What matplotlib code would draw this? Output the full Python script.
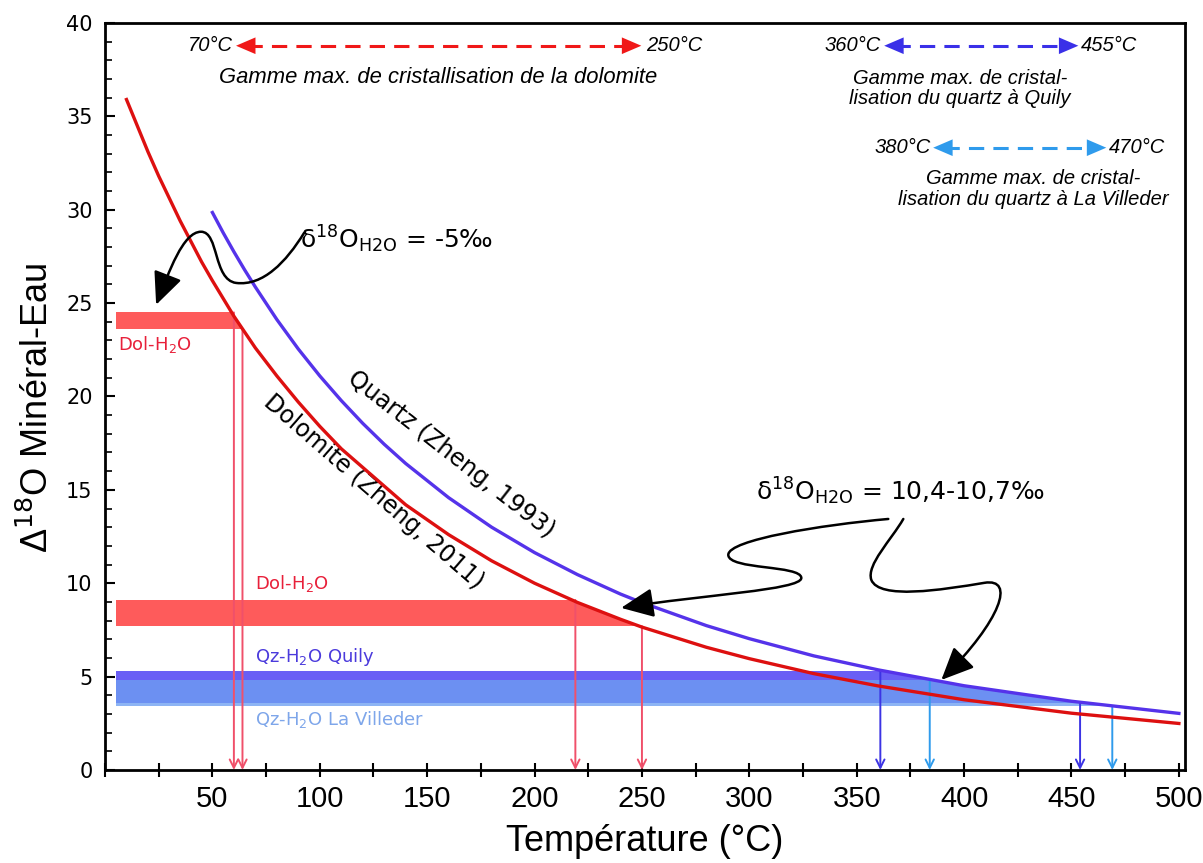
import matplotlib
matplotlib.use("Agg")
import matplotlib.pyplot as plt
from matplotlib.path import Path
from matplotlib.patches import FancyArrowPatch, Polygon, Rectangle
from matplotlib.ticker import MultipleLocator

# fractionation curves (T in °C, Delta18O mineral-water)
t_dol = [10, 15, 20, 25, 30, 35, 40, 45, 50, 60, 70, 80, 90, 100, 110, 120, 130, 140,
         160, 180, 200, 220, 240, 250, 280, 300, 330, 360, 400, 450, 500]
d_dol = [35.9, 34.5, 33.1, 31.8, 30.6, 29.4, 28.3, 27.2, 26.2, 24.3, 22.6, 21.1, 19.7,
         18.4, 17.2, 16.2, 15.2, 14.2, 12.6, 11.2, 10.0, 8.97, 8.07, 7.65, 6.57, 5.96,
         5.16, 4.50, 3.76, 3.04, 2.49]
t_qz = [50, 55, 60, 65, 70, 80, 90, 100, 110, 120, 130, 140, 160, 180, 200, 220, 240,
        250, 280, 300, 330, 360, 400, 450, 500]
d_qz = [29.85, 28.77, 27.75, 26.78, 25.86, 24.12, 22.54, 21.10, 19.78, 18.56, 17.44,
        16.41, 14.58, 13.00, 11.64, 10.46, 9.42, 8.96, 7.73, 7.03, 6.11, 5.36, 4.51,
        3.68, 3.03]

# Delta ranges (low, high) of the bands
dol_band_1 = (23.6, 24.5)
dol_band_2 = (7.7, 9.1)
quily_band = (3.6, 5.3)
villeder_band = (3.4, 4.8)

# vertical arrows: temperature, start value
red_arrows = [(60, 24.5), (64, 23.6), (219, 9.1), (250, 7.7)]
quily_arrows = [(361, 5.3), (454, 3.6)]
villeder_arrows = [(384, 4.8), (469, 3.4)]

RED = "#dd1010"
BLUE = "#5533ea"
BAND_RED = "#fe5b5b"
ARR_RED = "#f0506a"
DARK_BLUE = "#3c34e4"
LIGHT_BLUE = "#2f9bec"

narrow = ["Liberation Sans Narrow", "Liberation Sans", "DejaVu Sans"]

fig = plt.figure(figsize=(12.03, 8.63), dpi=100)
ax = fig.add_axes([0.0873, 0.1078, 0.898, 0.8656])
ax.set_xlim(0, 503)
ax.set_ylim(0, 40)

# clip regions under each curve
dol_clip = Polygon([(0, 0), (0, d_dol[0])] + list(zip(t_dol, d_dol)) + [(t_dol[-1], 0)],
                   closed=True, transform=ax.transData)
qz_clip = Polygon([(0, 0), (0, d_qz[0])] + list(zip(t_qz, d_qz)) + [(t_qz[-1], 0)],
                  closed=True, transform=ax.transData)

for lo, hi in [dol_band_1, dol_band_2]:
    r = Rectangle((5, lo), 500, hi - lo, color=BAND_RED, lw=0, zorder=2)
    ax.add_patch(r)
    r.set_clip_path(dol_clip)

r = Rectangle((5, quily_band[0]), 500, quily_band[1] - quily_band[0],
              color="#6a5ff5", lw=0, zorder=2)
ax.add_patch(r)
r.set_clip_path(qz_clip)
r = Rectangle((5, villeder_band[0]), 500, villeder_band[1] - villeder_band[0],
              color="#6d9ff2", alpha=0.78, lw=0, zorder=2)
ax.add_patch(r)
r.set_clip_path(qz_clip)

ax.plot(t_dol, d_dol, color=RED, lw=2.4, zorder=4)
ax.plot(t_qz, d_qz, color=BLUE, lw=2.4, zorder=4)

for arrows, c in [(red_arrows, ARR_RED), (quily_arrows, DARK_BLUE), (villeder_arrows, LIGHT_BLUE)]:
    for x, y0 in arrows:
        ax.annotate("", xy=(x, 0), xytext=(x, y0), zorder=3,
                    arrowprops=dict(arrowstyle="->,head_length=0.6,head_width=0.3",
                                    color=c, lw=1.4, shrinkA=0, shrinkB=0))

# band labels
ax.text(6, 22.8, "Dol-H$_2$O", color="#e8203a", fontsize=13, va="center")
ax.text(70, 10.0, "Dol-H$_2$O", color="#e8203a", fontsize=13, va="center")
ax.text(70, 6.05, "Qz-H$_2$O Quily", color="#4b3bdc", fontsize=13, va="center")
ax.text(70, 2.7, "Qz-H$_2$O La Villeder", color="#7ea6ea", fontsize=13, va="center")

# curve labels
ax.text(161, 16.9, "Quartz (Zheng, 1993)", rotation=-38, fontsize=17,
        ha="center", va="center", rotation_mode="anchor")
ax.text(125, 14.9, "Dolomite (Zheng, 2011)", rotation=-41, fontsize=17,
        ha="center", va="center", rotation_mode="anchor")

# delta annotations
ax.text(91, 28.4, "δ$^{18}$O$_{\\mathrm{H2O}}$ = -5‰", fontsize=18, va="center")
ax.text(303, 14.9, "δ$^{18}$O$_{\\mathrm{H2O}}$ = 10,4-10,7‰", fontsize=18, va="center")

M, C = Path.MOVETO, Path.CURVE4
curvy = [
    [(92.7, 28.76), (84.3, 27.2), (73.6, 25.9), (61.0, 26.08),
     (50.3, 26.25), (53.1, 28.82), (44.7, 28.82),
     (36.3, 28.82), (29.8, 26.67), (23.8, 24.91)],
    [(364.7, 13.44), (333.5, 13.12), (290.2, 12.32), (290.2, 11.52),
     (290.2, 10.71), (324.2, 10.98), (324.2, 10.28),
     (324.2, 9.64), (277.6, 9.37), (240.3, 8.68)],
    [(371.7, 13.44), (366.1, 12.32), (354.4, 10.98), (356.8, 10.18),
     (360.5, 9.11), (389.4, 9.64), (409.4, 10.02),
     (424.0, 10.3), (417.3, 8.03), (389.4, 4.82)],
]
for verts in curvy:
    p = Path(verts, [M] + [C] * (len(verts) - 1))
    ax.add_patch(FancyArrowPatch(path=p, arrowstyle="-|>,head_length=1.0,head_width=0.45",
                                 mutation_scale=20, color="black", lw=1.8, zorder=5))

# top range arrows
def range_arrow(x0, x1, y, c):
    ax.plot([x0 + 5, x1 - 5], [y, y], color=c, lw=2.2, ls=(0, (5, 3)))
    for a, b in [(x0 + 10, x0), (x1 - 10, x1)]:
        ax.annotate("", xy=(b, y), xytext=(a, y),
                    arrowprops=dict(arrowstyle="-|>,head_length=0.7,head_width=0.3",
                                    color=c, lw=0, shrinkA=0, shrinkB=0, mutation_scale=20))

it = dict(fontsize=14.5, style="italic", family="Liberation Sans")
range_arrow(61.0, 249.7, 38.78, "#f01818")
ax.text(59.6, 38.78, "70°C", ha="right", va="center", **it)
ax.text(252, 38.78, "250°C", ha="left", va="center", **it)
ax.text(155, 37.1, "Gamme max. de cristallisation de la dolomite", ha="center", va="center",
        fontsize=15.8, style="italic", family="Liberation Sans")

range_arrow(362.8, 453.2, 38.78, "#3a30e8")
ax.text(361.4, 38.78, "360°C", ha="right", va="center", **it)
ax.text(454.6, 38.78, "455°C", ha="left", va="center", **it)
ax.text(398, 36.5, "Gamme max. de cristal-\nlisation du quartz à Quily", ha="center",
        va="center", multialignment="center", linespacing=1.1, **it)

range_arrow(385.6, 466.2, 33.32, "#2f9bec")
ax.text(384.7, 33.32, "380°C", ha="right", va="center", **it)
ax.text(467.6, 33.32, "470°C", ha="left", va="center", **it)
ax.text(432, 31.12, "Gamme max. de cristal-\nlisation du quartz à La Villeder", ha="center",
        va="center", multialignment="center", linespacing=1.1, **it)

# axes styling
for s in ax.spines.values():
    s.set_linewidth(2.0)
ax.set_xticks(range(50, 501, 50))
ax.xaxis.set_minor_locator(MultipleLocator(25))
ax.yaxis.set_major_locator(MultipleLocator(5))
ax.yaxis.set_minor_locator(MultipleLocator(1))
ax.tick_params(axis="x", which="both", direction="inout", length=10, width=1.5, pad=6)
ax.tick_params(axis="y", which="major", direction="in", length=7, width=1.5, pad=9)
ax.tick_params(axis="y", which="minor", direction="in", length=5, width=1.2)
for lab in ax.get_xticklabels():
    lab.set_family(narrow)
    lab.set_fontsize(21)
for lab in ax.get_yticklabels():
    lab.set_family("DejaVu Sans")
    lab.set_fontsize(15)

ax.set_xlabel("Température (°C)", fontsize=26, family=narrow, labelpad=8)
ax.set_ylabel("Δ$^{18}$O Minéral-Eau", fontsize=26, family=narrow)
ax.yaxis.set_label_coords(-0.045, 0.485)

fig.savefig("out.png", dpi=100)
